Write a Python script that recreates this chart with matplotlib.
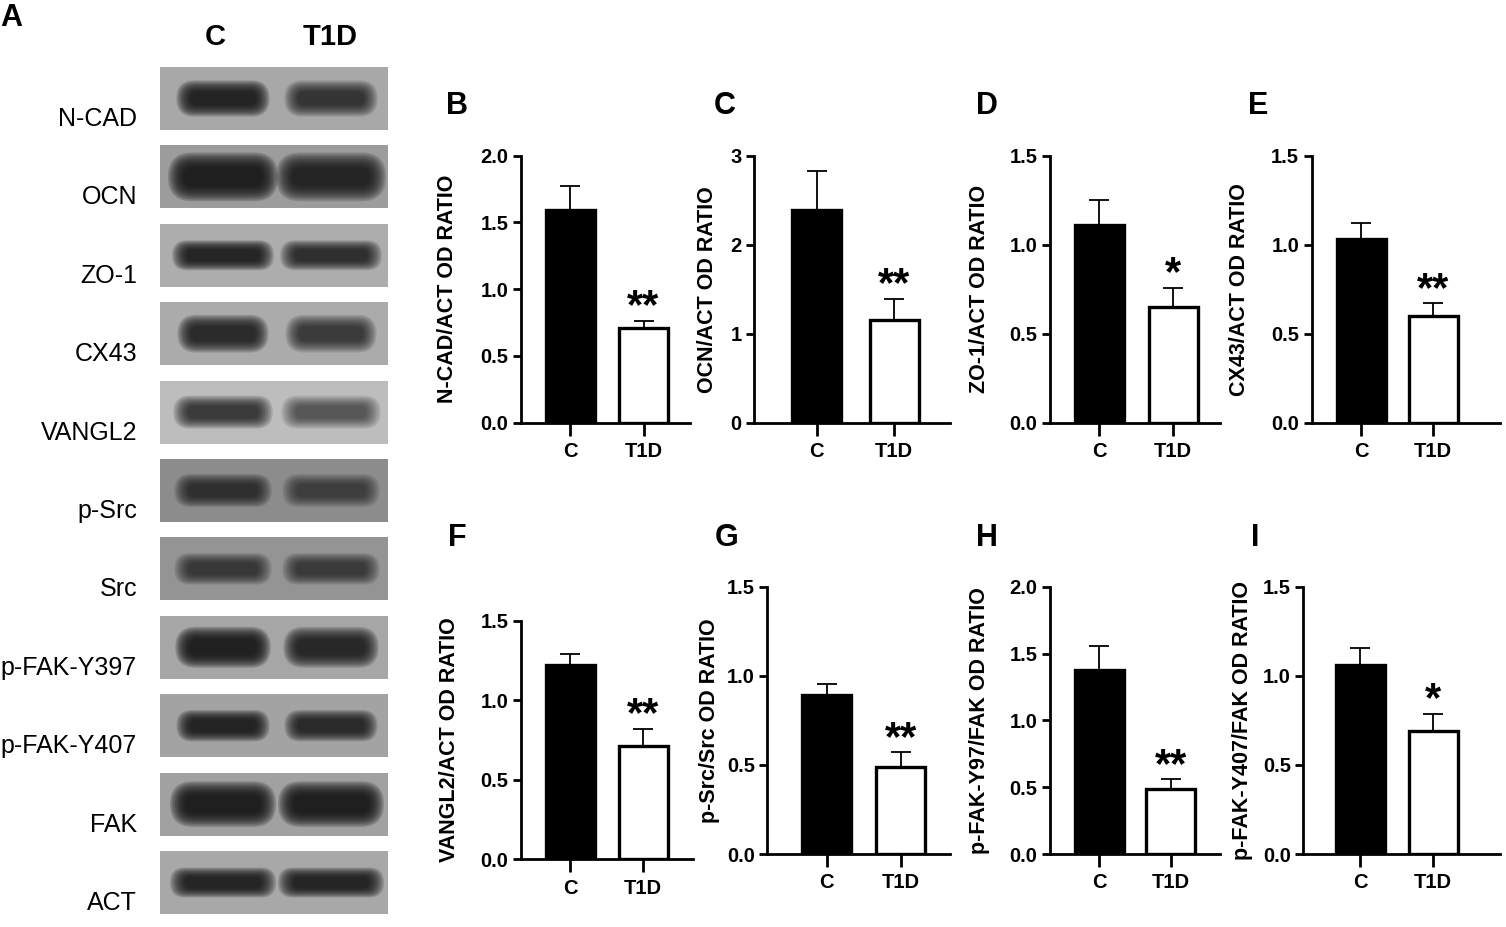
"""
    western blot summary figure: blot strips plus OD ratio bar charts
"""

import matplotlib

matplotlib.use("Agg")
import matplotlib.pyplot as plt
from matplotlib.patches import Rectangle, FancyBboxPatch

plt.rcParams["font.family"] = ["Liberation Sans", "DejaVu Sans"]

W, H = 1506, 927

# Blot strips (panel A)
strip_names = ["N-CAD", "OCN", "ZO-1", "CX43", "VANGL2", "p-Src", "Src",
               "p-FAK-Y397", "p-FAK-Y407", "FAK", "ACT"]
strip_bg = [0.66, 0.61, 0.68, 0.67, 0.74, 0.55, 0.58, 0.65, 0.64, 0.63, 0.66]
band_c = [0.90, 1.00, 0.88, 0.80, 0.62, 0.62, 0.55, 1.00, 0.88, 0.98, 0.88]
band_t = [0.62, 0.85, 0.72, 0.58, 0.42, 0.45, 0.52, 0.82, 0.78, 0.98, 0.88]
band_h = [0.46, 0.62, 0.38, 0.48, 0.42, 0.42, 0.40, 0.52, 0.40, 0.58, 0.38]
band_w = [88, 104, 96, 86, 94, 92, 92, 90, 88, 100, 100]
lanes = ["C", "T1D"]

# Bar charts (panels B-I)
groups = ["C", "T1D"]
panel_letters = ["B", "C", "D", "E", "F", "G", "H", "I"]
ylabels = ["N-CAD/ACT OD RATIO", "OCN/ACT OD RATIO", "ZO-1/ACT OD RATIO",
           "CX43/ACT OD RATIO", "VANGL2/ACT OD RATIO", "p-Src/Src OD RATIO",
           "p-FAK-Y97/FAK OD RATIO", "p-FAK-Y407/FAK OD RATIO"]
means_c = [1.59, 2.39, 1.11, 1.03, 1.22, 0.89, 1.38, 1.06]
means_t = [0.71, 1.15, 0.65, 0.60, 0.71, 0.49, 0.49, 0.69]
sem_c = [0.18, 0.44, 0.14, 0.09, 0.07, 0.065, 0.175, 0.095]
sem_t = [0.055, 0.24, 0.105, 0.07, 0.11, 0.08, 0.068, 0.097]
stars = ["**", "**", "*", "**", "**", "**", "**", "*"]
ymax = [2.0, 3.0, 1.5, 1.5, 1.5, 1.5, 2.0, 1.5]
yticks = [[0, 0.5, 1.0, 1.5, 2.0], [0, 1, 2, 3], [0, 0.5, 1.0, 1.5],
          [0, 0.5, 1.0, 1.5], [0, 0.5, 1.0, 1.5], [0, 0.5, 1.0, 1.5],
          [0, 0.5, 1.0, 1.5, 2.0], [0, 0.5, 1.0, 1.5]]
ytick_fmt = ["%.1f", "%d", "%.1f", "%.1f", "%.1f", "%.1f", "%.1f", "%.1f"]

# layout in pixels: left, right, top, bottom, x of C tick, x of T1D tick
layout = [
    (521, 690, 155.7, 422.7, 570, 643.5),
    (754, 950, 155.7, 422.7, 816.7, 894.3),
    (1050, 1220, 155.7, 422.7, 1099.3, 1173.3),
    (1311.7, 1500, 155.7, 422.7, 1361, 1433.3),
    (521, 693, 620.7, 859.3, 570, 643.3),
    (767.3, 950, 586.7, 854, 826.7, 900.7),
    (1050, 1220, 586.7, 854, 1099.3, 1170.7),
    (1303.3, 1500, 586.7, 854, 1360, 1433.3),
]
ylabel_x = [458, 718, 990, 1250, 460, 720, 990, 1253]
letter_xy = [(457, 106), (725, 106), (987, 106), (1258, 106),
             (457, 538), (727, 538), (987, 538), (1255, 538)]


def px_axes(fig, left, right, top, bottom):
    """adds an axes placed by pixel edges"""
    return fig.add_axes([left / W, 1 - bottom / H, (right - left) / W,
                         (bottom - top) / H])


def draw_blot(fig):
    ax = px_axes(fig, 160, 388, 67, 914)
    ax.set_xlim(160, 388)
    ax.set_ylim(914, 67)
    ax.axis("off")
    pitch, sh = 78.4, 63
    lane_x = [223, 331]
    for i, name in enumerate(strip_names):
        top = 67 + i * pitch
        g = strip_bg[i]
        ax.add_patch(Rectangle((160, top), 228, sh, color=(g, g, g), lw=0))
        yc = top + sh / 2
        for xc, dark in zip(lane_x, [band_c[i], band_t[i]]):
            # soft band: stacked rounded boxes fading outward
            for k in range(10):
                f = 1 - k / 10
                bw = band_w[i] * (0.72 + 0.34 * f)
                bh = sh * band_h[i] * (0.4 + 0.85 * f)
                ax.add_patch(FancyBboxPatch(
                    (xc - bw / 2, yc - bh / 2), bw, bh,
                    boxstyle="round,pad=0,rounding_size=%.2f" % (bh / 2),
                    color=(0.07, 0.07, 0.07), alpha=dark * 0.2, lw=0))
        ax.text(137, top + sh - 11, name, ha="right", va="center",
                fontsize=18, clip_on=False)
    for xc, lab in zip([215, 330], lanes):
        ax.text(xc, 37, lab, ha="center", va="center", fontsize=21,
                fontweight="bold", clip_on=False)


def draw_bars(fig, i):
    left, right, top, bottom, xc, xt = layout[i]
    ax = px_axes(fig, left, right, top, bottom)
    unit = xt - xc
    ax.set_xlim((left - xc) / unit, (right - xc) / unit)
    ax.set_ylim(0, ymax[i])
    width = 49 / unit
    ax.errorbar([0, 1], [means_c[i], means_t[i]],
                yerr=[[0, 0], [sem_c[i], sem_t[i]]], fmt="none",
                ecolor="black", elinewidth=1.3, capsize=7.5, capthick=1.3,
                zorder=1)
    ax.bar([0, 1], [means_c[i], means_t[i]], width=width,
           color=["black", "white"], edgecolor="black", linewidth=2.4,
           zorder=2)
    ax.annotate(stars[i], xy=(1, means_t[i] + sem_t[i]), xytext=(0, 2),
                textcoords="offset points", ha="center", va="baseline",
                fontsize=30, fontweight="bold")
    for s in ["top", "right"]:
        ax.spines[s].set_visible(False)
    for s in ["left", "bottom"]:
        ax.spines[s].set_linewidth(2)
    ax.set_xticks([0, 1])
    ax.set_xticklabels(groups)
    ax.set_yticks(yticks[i])
    ax.set_yticklabels([ytick_fmt[i] % v for v in yticks[i]])
    ax.tick_params(axis="y", length=6, width=2, labelsize=14.5, pad=3)
    ax.tick_params(axis="x", length=9, width=2, labelsize=14.5, pad=5)
    for lab in ax.get_xticklabels() + ax.get_yticklabels():
        lab.set_fontweight("bold")
    ax.set_ylabel(ylabels[i], fontsize=15.5, fontweight="bold")
    ax.yaxis.set_label_coords((ylabel_x[i] - left) / (right - left), 0.5)
    lx, ly = letter_xy[i]
    fig.text(lx / W, 1 - ly / H, panel_letters[i], ha="center", va="center",
             fontsize=22, fontweight="bold")


fig = plt.figure(figsize=(W / 100, H / 100), dpi=100)
fig.text(11 / W, 1 - 18 / H, "A", ha="center", va="center", fontsize=22,
         fontweight="bold")
draw_blot(fig)
for i in range(len(panel_letters)):
    draw_bars(fig, i)

fig.savefig("out.png", dpi=100)
